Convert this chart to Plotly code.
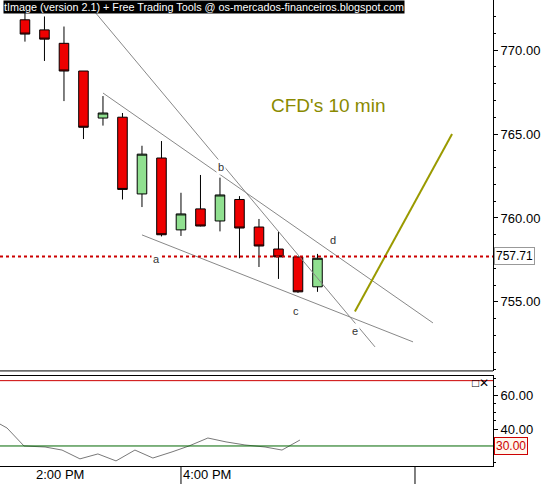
import plotly.graph_objects as go

# candles (bar index, price)
bar_idx = list(range(16))
opens = [771.8, 771.2, 770.4, 768.75, 765.95, 766.0, 761.43, 763.57, 759.29, 760.54, 759.82, 761.1, 759.46, 758.15, 757.68, 755.9]
highs = [772.6, 772.0, 771.4, 768.75, 767.26, 766.25, 764.3, 764.58, 761.5, 762.56, 762.4, 761.3, 759.94, 759.17, 757.7, 757.86]
lows = [770.5, 769.35, 766.96, 764.7, 765.5, 761.1, 760.65, 758.9, 758.93, 759.5, 759.2, 757.6, 757.08, 756.37, 755.54, 755.6]
closes = [770.95, 770.65, 768.75, 765.4, 766.25, 761.7, 763.8, 759.0, 760.24, 759.52, 761.37, 759.4, 758.33, 757.68, 755.6, 757.6]

level_price = 757.71

# trend lines: (x0, y0, x1, y1) in bar index / price
trend_lines = [
    (3.59, 772.26, 17.95, 752.32),
    (4.0, 767.44, 20.92, 753.75),
    (6.0, 758.99, 19.9, 752.62),
]
olive_line = (16.92, 754.43, 21.9, 765.0)

point_labels = ["a", "b", "c", "d", "e"]
label_x = [6.72, 10.05, 13.9, 15.8, 16.92]
label_y = [757.56, 763.04, 754.43, 758.71, 753.24]

# oscillator
osc_x = [-1.28, -0.92, -0.05, 1.03, 1.9, 2.82, 3.74, 4.67, 5.64, 6.56, 7.54, 8.41, 9.38, 10.31, 11.28, 12.31, 13.18, 14.1]
osc_y = [42.9, 40.6, 30.0, 29.4, 27.6, 22.4, 25.3, 21.2, 27.6, 22.9, 26.5, 30.0, 34.7, 32.4, 30.6, 29.4, 27.6, 33.5]
osc_upper = 68.5
osc_lower = 30

time_ticks = [0.46, 8.0]
time_labels = ["2:00 PM", "4:00 PM"]

fig = go.Figure()
fig.add_trace(go.Candlestick(
    x=bar_idx, open=opens, high=highs, low=lows, close=closes,
    increasing=dict(fillcolor="#90e090", line=dict(color="black", width=1)),
    decreasing=dict(fillcolor="#ee0000", line=dict(color="black", width=1)),
    whiskerwidth=0, showlegend=False, xaxis="x", yaxis="y",
))
fig.add_trace(go.Scatter(x=osc_x, y=osc_y, mode="lines", line=dict(color="#555", width=0.8),
                         showlegend=False, xaxis="x2", yaxis="y2"))

for x0, y0, x1, y1 in trend_lines:
    fig.add_shape(type="line", x0=x0, y0=y0, x1=x1, y1=y1, xref="x", yref="y",
                  line=dict(color="#888", width=1))
x0, y0, x1, y1 = olive_line
fig.add_shape(type="line", x0=x0, y0=y0, x1=x1, y1=y1, xref="x", yref="y",
              line=dict(color="#9a9a00", width=2))
fig.add_shape(type="line", x0=0, x1=1, xref="x domain", y0=level_price, y1=level_price, yref="y",
              line=dict(color="#cc0000", width=2, dash="dot"))
for lbl, lx, ly in zip(point_labels, label_x, label_y):
    fig.add_annotation(x=lx, y=ly, text=lbl, showarrow=False, bgcolor="white",
                       font=dict(size=11, color="#333"), xref="x", yref="y")

fig.add_shape(type="line", x0=0, x1=1, xref="x2 domain", y0=osc_upper, y1=osc_upper, yref="y2",
              line=dict(color="#cc0000", width=1))
fig.add_shape(type="line", x0=0, x1=1, xref="x2 domain", y0=osc_lower, y1=osc_lower, yref="y2",
              line=dict(color="#006600", width=1))

# separators and time labels below
for sx in [8.0, 20.0]:
    fig.add_shape(type="line", x0=sx, x1=sx, xref="x2", y0=-0.04, y1=0, yref="paper",
                  line=dict(color="black", width=1))
for tx, tl in zip(time_ticks, time_labels):
    fig.add_annotation(x=tx, y=0, xref="x2", yref="paper", text=tl, showarrow=False,
                       xanchor="left", yanchor="top", yshift=1, font=dict(size=13, color="black"))

fig.add_annotation(x=0.822, y=1, xref="paper", yref="paper", xanchor="right", yanchor="top",
                   text="tImage (version 2.1) + Free Trading Tools @ os-mercados-financeiros.blogspot.com",
                   showarrow=False, bgcolor="black", font=dict(size=10.8, color="white", family="Liberation Sans"),
                   borderpad=0)
fig.add_annotation(x=0.785, y=0.8, xref="paper", yref="paper", text="CFD's 10 min", showarrow=False,
                   font=dict(size=19, color="#8a8a00"))
fig.add_annotation(x=1.003, y=level_price, xref="paper", yref="y", text="757.71", showarrow=False,
                   xanchor="left", bgcolor="white", bordercolor="#999", borderwidth=1,
                   font=dict(size=12, color="black"))
fig.add_annotation(x=1.003, y=osc_lower, xref="paper", yref="y2", text="30.00", showarrow=False,
                   xanchor="left", bgcolor="#fff8ee", bordercolor="#cc0000", borderwidth=1,
                   font=dict(size=12, color="#cc0000"))
fig.add_annotation(x=0.995, y=0.198, xref="paper", yref="paper", text="□✕", showarrow=False,
                   xanchor="right", yanchor="top", font=dict(size=12, color="black"))

axis_common = dict(showgrid=False, zeroline=False, showline=True, linecolor="black",
                   ticks="outside", ticklen=4, tickcolor="black", automargin=False,
                   tickfont=dict(size=13, color="black", family="Liberation Sans"),
                   minor=dict(ticks="outside", ticklen=2, tickcolor="black"))

fig.update_layout(
    width=551, height=484, margin=dict(l=0, r=58, t=0, b=18),
    paper_bgcolor="white", plot_bgcolor="white",
    font=dict(family="Liberation Sans"),
    xaxis=dict(range=[-1.28, 24], domain=[0, 1], showticklabels=False, showgrid=False,
               zeroline=False, rangeslider=dict(visible=False), anchor="y", automargin=False),
    yaxis=dict(range=[750.89, 772.98], domain=[0.204, 1], side="right", tickformat=".2f",
               dtick=5, anchor="x", **axis_common),
    xaxis2=dict(range=[-1.28, 24], domain=[0, 1], showticklabels=False, showgrid=False,
                zeroline=False, showline=True, linecolor="black", mirror=True, anchor="y2",
                automargin=False),
    yaxis2=dict(range=[18.2, 71.2], domain=[0, 0.193], side="right", tickvals=[40, 60],
                tickformat=".2f", anchor="x2", **axis_common),
)
fig.add_shape(type="line", x0=0, x1=1, xref="paper", y0=0.204, y1=0.204, yref="paper",
              line=dict(color="black", width=1))

fig.write_html("out.html", config={"displayModeBar": False},
               post_script="document.body.style.margin='0';document.body.style.overflow='hidden';")
